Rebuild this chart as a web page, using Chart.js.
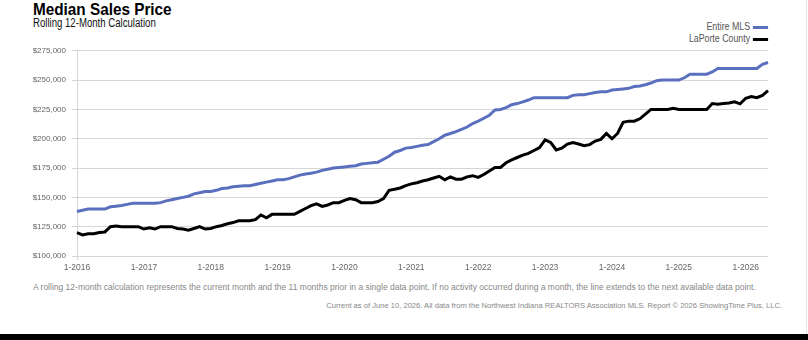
<!DOCTYPE html>
<html>
<head>
<meta charset="utf-8">
<script src="https://cdn.jsdelivr.net/npm/chart.js@4"></script>
<style>
    body { margin: 0; width: 808px; height: 340px; background: #fff; position: relative; overflow: hidden;
           font-family: "Liberation Sans", Arial, sans-serif; }
    .title { position: absolute; left: 33px; top: 0px; font-size: 17px; font-weight: bold; color: #000;
             transform: scaleX(0.9); transform-origin: left top; white-space: nowrap; }
    .subtitle { position: absolute; left: 33px; top: 16px; font-size: 12px; color: #111;
                transform: scaleX(0.8); transform-origin: left top; white-space: nowrap; }
    .legend { position: absolute; right: 40px; font-size: 11px; color: #555; text-align: right; white-space: nowrap;
              transform: scaleX(0.8); transform-origin: right top; }
    .legend span.sw { display: inline-block; width: 19px; height: 3px; margin-left: 4px; vertical-align: middle; }
    .note { position: absolute; font-size: 8.5px; color: #888; white-space: nowrap; }
    #wrap { position: absolute; left: 0; top: 40px; width: 780px; height: 240px; }
    .edge { position: absolute; left: 806px; top: 0; width: 1px; height: 334px; background: #e4e4e4; }
    .bar { position: absolute; left: 0; top: 334px; width: 808px; height: 6px; background: #000; }
</style>
</head>
<body>
<div class="title">Median Sales Price</div>
<div class="subtitle">Rolling 12-Month Calculation</div>
<div class="legend" style="top: 20px;">Entire MLS<span class="sw" style="background:#5b6fbf"></span></div>
<div class="legend" style="top: 32px;">LaPorte County<span class="sw" style="background:#000"></span></div>
<div id="wrap"><canvas id="chart"></canvas></div>
<div class="note" style="left: 33px; top: 282px;">A rolling 12-month calculation represents the current month and the 11 months prior in a single data point. If no activity occurred during a month, the line extends to the next available data point.</div>
<div class="note" style="right: 26px; top: 301px; font-size: 7.6px;">Current as of June 10, 2026. All data from the Northwest Indiana REALTORS Association MLS. Report © 2026 ShowingTime Plus, LLC.</div>
<div class="edge"></div>
<div class="bar"></div>
<script>
const startYear = 2016;
const monthCount = 125;
const yTicks = [100000, 125000, 150000, 175000, 200000, 225000, 250000, 275000];

const entireMls = [
    138000, 139000, 140000, 140000, 140000, 140000, 142000, 142500, 143000, 144000, 145000, 145000,
    145000, 145000, 145000, 145500, 147000, 148000, 149000, 150000, 151000, 153000, 154000, 155000,
    155000, 156000, 157500, 158000, 159000, 159500, 160000, 160000, 161000, 162000, 163000, 164000,
    165000, 165000, 166000, 167500, 169000, 170000, 170500, 171500, 173000, 174000, 175000, 175500,
    176000, 176500, 177000, 178500, 179000, 179500, 180000, 182500, 185000, 188500, 190000, 192000,
    192500, 193500, 194500, 195000, 197500, 200000, 203000, 204500, 206000, 208000, 210000, 213000,
    215000, 217500, 220000, 224500, 225000, 226500, 229000, 230000, 231500, 233000, 235000, 235000,
    235000, 235000, 235000, 235000, 235000, 237000, 237500, 237500, 238500, 239500, 240000, 240000,
    241500, 242000, 242500, 243000, 244500, 245000, 246000, 247500, 249500, 250000, 250000, 250000,
    250000, 252000, 255000, 255000, 255000, 255000, 257000, 260000, 260000, 260000, 260000, 260000,
    260000, 260000, 260000, 263500, 265000
];

const laporteCounty = [
    120000, 118000, 119000, 119000, 120000, 120500, 125000, 125500, 125000, 125000, 125000, 125000,
    123000, 124000, 123000, 125000, 125000, 125000, 123500, 123000, 122000, 123500, 125000, 123000,
    123500, 125000, 126000, 127500, 128500, 130000, 130000, 130000, 131000, 135000, 132500, 135500,
    135500, 135500, 135500, 135500, 138000, 140500, 143000, 144500, 142300, 143500, 145500, 145500,
    147500, 149000, 148000, 145500, 145500, 145500, 146500, 149000, 156000, 157000, 158000, 160000,
    161500, 162500, 164000, 165000, 166500, 168000, 165000, 167500, 165500, 165500, 167500, 168500,
    167000, 169500, 172500, 175500, 175500, 179500, 182000, 184000, 186000, 187500, 190000, 192500,
    199000, 196800, 190500, 192000, 195500, 196800, 195500, 194000, 195000, 198000, 199500, 204500,
    200000, 204500, 214000, 215000, 215000, 217000, 221000, 225000, 225000, 225000, 225000, 226000,
    225000, 225000, 225000, 225000, 225000, 225000, 230000, 229500, 230000, 230500, 231500, 229800,
    234500, 236000, 235000, 237000, 241000
];

// month labels like "1-2016"
const labels = [];
for (let i = 0; i < monthCount; i++) {
    labels.push((i % 12 + 1) + '-' + (startYear + Math.floor(i / 12)));
}

const gridColor = '#d6d6d6';
const isYearTick = i => i % 12 === 0 || i === monthCount - 1;

new Chart(document.getElementById('chart').getContext('2d'), {
    type: 'line',
    data: {
        labels: labels,
        datasets: [{
            label: 'Entire MLS',
            data: entireMls,
            borderColor: '#5b6fbf',
            borderWidth: 3,
            pointRadius: 0,
            tension: 0
        }, {
            label: 'LaPorte County',
            data: laporteCounty,
            borderColor: '#000',
            borderWidth: 3,
            pointRadius: 0,
            tension: 0
        }]
    },
    options: {
        responsive: true,
        maintainAspectRatio: false,
        animation: false,
        layout: { padding: { top: 9, right: 12, left: 0, bottom: 0 } },
        plugins: {
            legend: { display: false },
            tooltip: { enabled: false }
        },
        scales: {
            x: {
                offset: false,
                grid: {
                    color: ctx => isYearTick(ctx.index) ? gridColor : 'transparent',
                    tickLength: 4,
                    lineWidth: 1
                },
                border: { display: false },
                ticks: {
                    autoSkip: false,
                    maxRotation: 0,
                    color: '#666',
                    font: { family: 'Liberation Sans', size: 8.5 },
                    padding: 3,
                    callback: (v, i) => i % 12 === 0 ? labels[i] : null
                },
                afterFit: s => { s.height = 24; }
            },
            y: {
                min: yTicks[0],
                max: yTicks[yTicks.length - 1],
                afterBuildTicks: s => { s.ticks = yTicks.map(v => ({ value: v })); },
                grid: { color: gridColor, tickLength: 5 },
                border: { display: false },
                ticks: {
                    color: '#666',
                    font: { family: 'Liberation Sans', size: 8 },
                    padding: 6,
                    callback: v => '$' + v.toLocaleString('en-US')
                },
                afterFit: s => { s.width = 77; }
            }
        }
    }
});
</script>
</body>
</html>
